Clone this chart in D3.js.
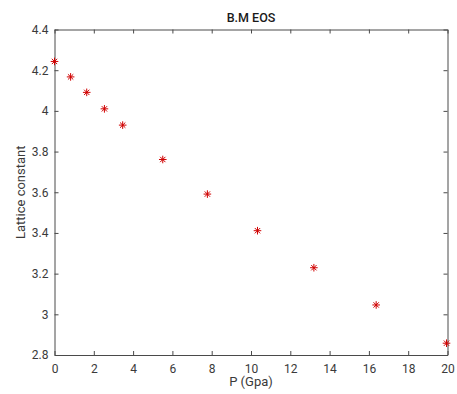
<!DOCTYPE html>
<html>
<head>
<meta charset="utf-8">
<script src="https://cdn.jsdelivr.net/npm/d3@7"></script>
<style>
  body { margin: 0; background: #fff; }
  text { font-family: Roboto, "Liberation Sans", sans-serif; }
</style>
</head>
<body>
<div id="chart"></div>
<script>
const pressure = [0, 0.82, 1.64, 2.54, 3.47, 5.51, 7.78, 10.33, 13.2, 16.37, 19.95];
const lattice = [4.243, 4.167, 4.091, 4.01, 3.93, 3.761, 3.591, 3.411, 3.229, 3.046, 2.858];
const xTicks = [0, 2, 4, 6, 8, 10, 12, 14, 16, 18, 20];
const yTicks = [2.8, 3, 3.2, 3.4, 3.6, 3.8, 4, 4.2, 4.4];

const W = 457, H = 394;
const margin = { top: 29.5, right: 9.5, bottom: 39, left: 54.5 };
const width = W - margin.left - margin.right;
const height = H - margin.top - margin.bottom;
const axisColor = "#4a4a4a";
const textColor = "#3a3a3a";

const svg = d3.select("#chart").append("svg")
  .attr("width", W).attr("height", H);

const g = svg.append("g")
  .attr("transform", `translate(${margin.left},${margin.top})`);

const x = d3.scaleLinear().domain([0, 20]).range([0, width]);
const y = d3.scaleLinear().domain([2.8, 4.4]).range([height, 0]);

// axes with inward ticks, box on all four sides
const xAxisBottom = g.append("g")
  .attr("transform", `translate(0,${height})`)
  .call(d3.axisBottom(x).tickValues(xTicks).tickSizeInner(-4).tickSizeOuter(0).tickPadding(9).tickFormat(d3.format("")));
const yAxisLeft = g.append("g")
  .call(d3.axisLeft(y).tickValues(yTicks).tickSizeInner(-4).tickSizeOuter(0).tickPadding(6).tickFormat(d3.format("")));
const xAxisTop = g.append("g")
  .call(d3.axisTop(x).tickValues(xTicks).tickSizeInner(-4).tickSizeOuter(0).tickFormat(""));
const yAxisRight = g.append("g")
  .attr("transform", `translate(${width},0)`)
  .call(d3.axisRight(y).tickValues(yTicks).tickSizeInner(-4).tickSizeOuter(0).tickFormat(""));

[xAxisBottom, yAxisLeft, xAxisTop, yAxisRight].forEach(a => {
  a.select(".domain").attr("stroke", axisColor).attr("stroke-width", 1);
  a.selectAll(".tick line").attr("stroke", axisColor);
  a.selectAll(".tick text")
    .attr("fill", textColor)
    .style("font-size", "12px")
    .style("font-family", "Roboto, sans-serif");
});

// asterisk markers
const r = 3.8;
const k = r * 0.7;
const star = `M${-r},0L${r},0M0,${-r}L0,${r}M${-k},${-k}L${k},${k}M${-k},${k}L${k},${-k}`;
g.selectAll(".pt")
  .data(pressure.map((p, i) => ({ p, a: lattice[i] })))
  .enter().append("path")
  .attr("class", "pt")
  .attr("transform", d => `translate(${x(d.p)},${y(d.a)})`)
  .attr("d", star)
  .attr("fill", "none")
  .attr("stroke", "#d00000")
  .attr("stroke-width", 1);

// labels
svg.append("text")
  .attr("x", margin.left + width / 2)
  .attr("y", 22)
  .attr("text-anchor", "middle")
  .attr("fill", "#1a1a1a")
  .style("font-size", "12.5px")
  .style("font-weight", "500")
  .text("B.M EOS");

svg.append("text")
  .attr("x", margin.left + width / 2)
  .attr("y", 386)
  .attr("text-anchor", "middle")
  .attr("fill", textColor)
  .style("font-size", "13px")
  .text("P (Gpa)");

svg.append("text")
  .attr("transform", `translate(25,${margin.top + height / 2}) rotate(-90)`)
  .attr("text-anchor", "middle")
  .attr("fill", textColor)
  .style("font-size", "13px")
  .text("Lattice constant");
</script>
</body>
</html>
